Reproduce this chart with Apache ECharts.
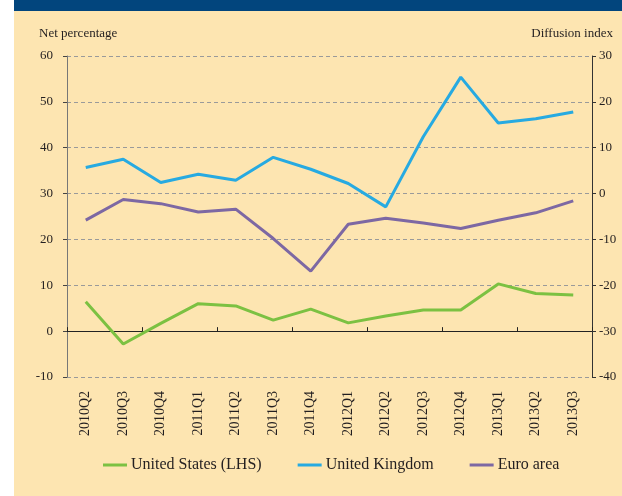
<!DOCTYPE html>
<html>
<head>
<meta charset="utf-8">
<script src="https://cdn.jsdelivr.net/npm/echarts@6/dist/echarts.min.js"></script>
<style>
  html, body { margin: 0; padding: 0; background: #fff; }
  #chart { width: 622px; height: 496px; }
</style>
</head>
<body>
<div id="chart"></div>
<script>
// quarters on the x axis
const quarters = ['2010Q2', '2010Q3', '2010Q4', '2011Q1', '2011Q2', '2011Q3', '2011Q4',
  '2012Q1', '2012Q2', '2012Q3', '2012Q4', '2013Q1', '2013Q2', '2013Q3']
// net percentage (LHS)
const unitedStates = [6.4, -2.8, 1.7, 6.0, 5.5, 2.4, 4.8, 1.8, 3.3, 4.6, 4.6, 10.3, 8.2, 7.9]
// diffusion index (RHS)
const unitedKingdom = [5.7, 7.5, 2.4, 4.2, 2.9, 7.9, 5.3, 2.2, -2.9, 12.4, 25.4, 15.4, 16.3, 17.8]
const euroArea = [-5.8, -1.3, -2.2, -4.0, -3.4, -9.8, -16.9, -6.7, -5.4, -6.4, -7.6, -5.8, -4.2, -1.6]

const serif = 'Liberation Serif'
const ink = '#231f20'

const chart = echarts.init(document.getElementById('chart'))

const option = {
  animation: false,
  backgroundColor: '#fff',
  textStyle: { fontFamily: serif, color: ink },
  graphic: [
    // cream panel + dark blue band on top
    { type: 'rect', z: -10, shape: { x: 14, y: 0, width: 608, height: 496 }, style: { fill: '#fde5b1' } },
    { type: 'rect', z: -9, shape: { x: 14, y: 0, width: 608, height: 11 }, style: { fill: '#02457d' } }
  ],
  title: [
    { text: 'Net percentage', left: 34, top: 22, textStyle: { fontFamily: serif, fontSize: 13, fontWeight: 'normal', color: ink } },
    { text: 'Diffusion index', right: 4, top: 22, textStyle: { fontFamily: serif, fontSize: 13, fontWeight: 'normal', color: ink } }
  ],
  grid: { left: 67, right: 30, top: 56, bottom: 119 },
  legend: {
    left: 98,
    top: 452,
    itemGap: 36,
    itemWidth: 24,
    itemHeight: 3,
    icon: 'rect',
    textStyle: { fontFamily: serif, fontSize: 16, color: ink, padding: [0, 0, 0, -1] },
    data: ['United States (LHS)', 'United Kingdom', 'Euro area']
  },
  xAxis: [
    {
      // labels at the bottom
      type: 'category',
      data: quarters,
      position: 'bottom',
      axisLine: { show: false },
      axisTick: { show: false },
      axisLabel: { rotate: 90, margin: 14, fontFamily: serif, fontSize: 14, color: ink }
    },
    {
      // zero line with ticks
      type: 'category',
      data: quarters,
      axisLine: { onZero: true, onZeroAxisIndex: 0, lineStyle: { color: '#222', width: 1.2 } },
      axisTick: { show: true, length: 4, lineStyle: { color: '#222' } },
      axisLabel: { show: false },
      splitLine: { show: false }
    }
  ],
  yAxis: [
    {
      type: 'value',
      min: -10,
      max: 60,
      interval: 10,
      position: 'left',
      axisLine: { show: true, lineStyle: { color: '#777' } },
      axisTick: { show: true, length: 4, lineStyle: { color: '#444' } },
      axisLabel: { margin: 14, fontFamily: serif, fontSize: 13, color: ink },
      splitLine: { show: true, lineStyle: { color: '#9a9a9a', type: [4, 3] } }
    },
    {
      type: 'value',
      min: -40,
      max: 30,
      interval: 10,
      position: 'right',
      axisLine: { show: true, lineStyle: { color: '#333' } },
      axisTick: { show: true, length: 4, lineStyle: { color: '#333' } },
      axisLabel: { margin: 7, fontFamily: serif, fontSize: 13, color: ink },
      splitLine: { show: false }
    }
  ],
  series: [
    {
      name: 'United States (LHS)',
      type: 'line',
      yAxisIndex: 0,
      data: unitedStates,
      showSymbol: false,
      color: '#7cc142',
      lineStyle: { width: 3 }
    },
    {
      name: 'United Kingdom',
      type: 'line',
      yAxisIndex: 1,
      data: unitedKingdom,
      showSymbol: false,
      color: '#27aae1',
      lineStyle: { width: 3 }
    },
    {
      name: 'Euro area',
      type: 'line',
      yAxisIndex: 1,
      data: euroArea,
      showSymbol: false,
      color: '#7d68a3',
      lineStyle: { width: 3 }
    }
  ]
}

chart.setOption(option)
</script>
</body>
</html>
